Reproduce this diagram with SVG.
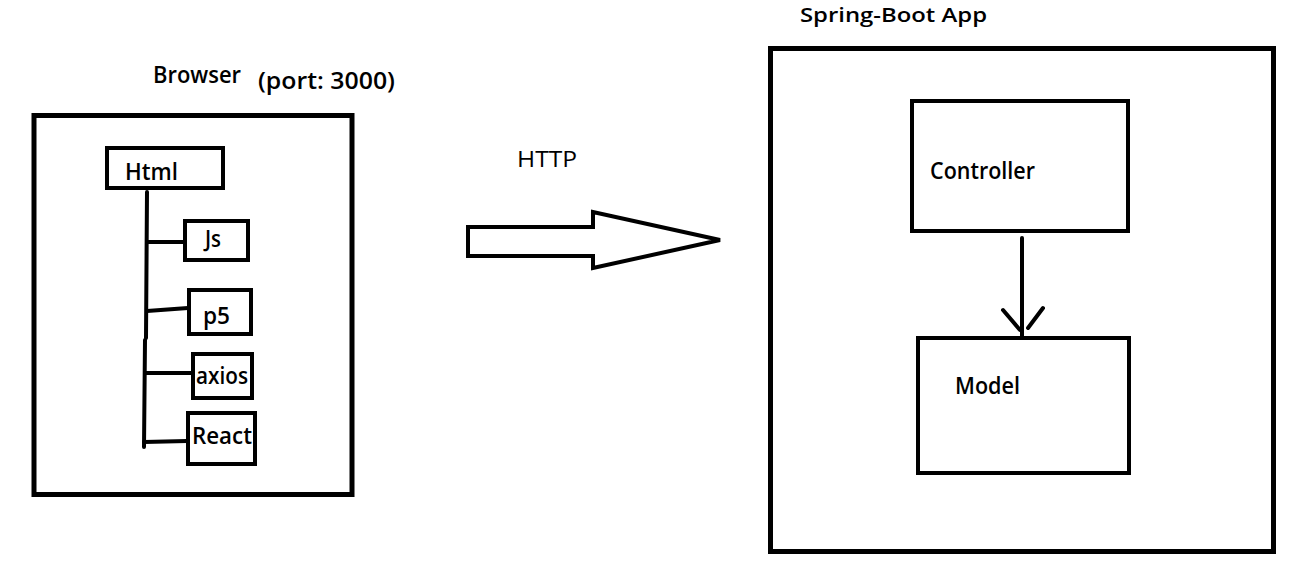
<svg xmlns="http://www.w3.org/2000/svg" width="1299" height="588" viewBox="0 0 1299 588">
<style>
  .box { fill: none; stroke: #000; stroke-width: 4; }
  .big { fill: none; stroke: #000; stroke-width: 5; }
  .ln { fill: none; stroke: #000; stroke-width: 4; stroke-linecap: round; }
  text { font-family: "Open Sans", "Noto Sans", sans-serif; fill: #000; font-weight: 600; }
  .lbl { font-size: 23px; }
  .title { font-size: 20.5px; }
  .http { font-weight: 400; font-size: 21px; }
</style>
<rect width="1299" height="588" fill="#fff"/>

<g id="browser">
  <rect class="big" x="34" y="115.5" width="318" height="379"/>
  <text class="lbl" x="153" y="83" textLength="88" lengthAdjust="spacingAndGlyphs">Browser</text>
  <text class="lbl" x="258" y="89" textLength="137" lengthAdjust="spacingAndGlyphs">(port: 3000)</text>
</g>

<g id="html">
  <rect class="box" x="107" y="148" width="116" height="40"/>
  <text class="lbl" x="125" y="180" textLength="53" lengthAdjust="spacingAndGlyphs">Html</text>
</g>
<g id="js">
  <rect class="box" x="185" y="221" width="63" height="39"/>
  <text class="lbl" x="205" y="247" textLength="16" lengthAdjust="spacingAndGlyphs">Js</text>
</g>
<g id="p5">
  <rect class="box" x="189" y="290" width="62" height="44"/>
  <text class="lbl" x="203" y="324" textLength="27" lengthAdjust="spacingAndGlyphs">p5</text>
</g>
<g id="axios">
  <rect class="box" x="193" y="354" width="59" height="44"/>
  <text class="lbl" x="196" y="384" textLength="52" lengthAdjust="spacingAndGlyphs">axios</text>
</g>
<g id="react">
  <rect class="box" x="188" y="413" width="67" height="51"/>
  <text class="lbl" x="192" y="444" textLength="60" lengthAdjust="spacingAndGlyphs">React</text>
</g>

<g id="http-arrow">
  <polygon class="box" points="468,227 593,227 593,212 720,240 593,268 593,256 468,256"/>
  <text class="http" x="517" y="167" textLength="60" lengthAdjust="spacingAndGlyphs">HTTP</text>
</g>

<g id="spring">
  <rect class="big" x="770.5" y="48.5" width="503" height="503"/>
  <text class="title" x="800" y="22" textLength="187" lengthAdjust="spacingAndGlyphs">Spring-Boot App</text>
</g>
<g id="controller">
  <rect class="box" x="912" y="101" width="216" height="130"/>
  <text class="lbl" x="930" y="179" textLength="105" lengthAdjust="spacingAndGlyphs">Controller</text>
</g>
<g id="model">
  <rect class="box" x="918" y="338" width="211" height="135"/>
  <text class="lbl" x="955" y="394" textLength="65" lengthAdjust="spacingAndGlyphs">Model</text>
</g>

<g id="connectors">
  <path class="ln" d="M147,192 L146,338 M145,340 L144,447"/>
  <path class="ln" d="M147,242 L184,242"/>
  <path class="ln" d="M147,311 L188,308"/>
  <path class="ln" d="M146,373 L192,373"/>
  <path class="ln" d="M144,442 L187,441"/>
  <path class="ln" d="M1022,238 L1022,336"/>
  <path class="ln" d="M1003,310 L1020,330 M1043,308 L1028,328"/>
</g>
</svg>
